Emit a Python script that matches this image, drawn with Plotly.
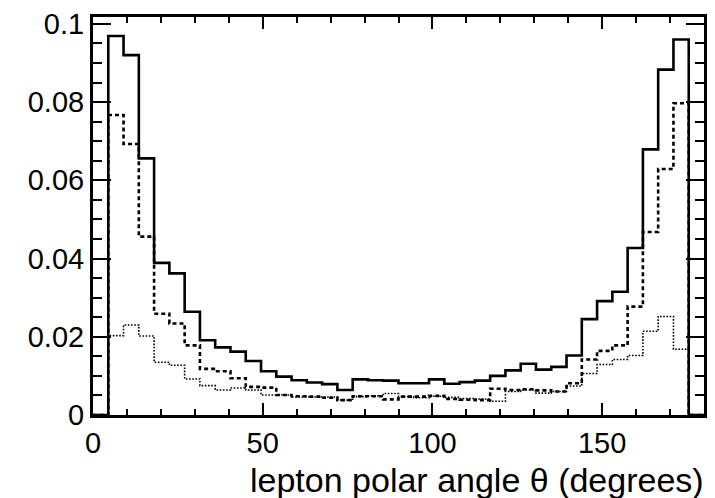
import numpy as np
import plotly.graph_objects as go

# 40 bins of 4.5 degrees from 0 to 180
bin_width = 4.5
n_bins = 40

solid = [0, 0.0969, 0.0920, 0.0656, 0.0389, 0.0362, 0.0264, 0.0191, 0.0173, 0.0162,
         0.0138, 0.0112, 0.0098, 0.0089, 0.0083, 0.0079, 0.0064, 0.0091, 0.0089, 0.0088,
         0.0081, 0.0081, 0.0091, 0.0080, 0.0084, 0.0088, 0.0100, 0.0114, 0.0131, 0.0116,
         0.0123, 0.0152, 0.0245, 0.0291, 0.0315, 0.0427, 0.0679, 0.0883, 0.0960, 0]

dashed = [0, 0.0767, 0.0693, 0.0456, 0.0259, 0.0234, 0.0178, 0.0118, 0.0112, 0.0094,
          0.0072, 0.0070, 0.0051, 0.0048, 0.0047, 0.0044, 0.0038, 0.0048, 0.0048, 0.0040,
          0.0047, 0.0047, 0.0049, 0.0041, 0.0039, 0.0038, 0.0067, 0.0064, 0.0066, 0.0063,
          0.0060, 0.0081, 0.0142, 0.0164, 0.0178, 0.0277, 0.0468, 0.0629, 0.0797, 0]

dotted = [0, 0.0203, 0.0230, 0.0202, 0.0135, 0.0127, 0.0092, 0.0075, 0.0064, 0.0069,
          0.0064, 0.0051, 0.0051, 0.0046, 0.0046, 0.0046, 0.0038, 0.0047, 0.0049, 0.0055,
          0.0047, 0.0044, 0.0048, 0.0045, 0.0042, 0.0041, 0.0035, 0.0060, 0.0064, 0.0056,
          0.0060, 0.0074, 0.0106, 0.0129, 0.0142, 0.0152, 0.0214, 0.0252, 0.0168, 0]

x_tickvals = [0, 50, 100, 150]
x_ticktext = ["0", "50", "100", "150"]
y_tickvals = [0, 0.02, 0.04, 0.06, 0.08, 0.1]
y_ticktext = ["0", "0.02", "0.04", "0.06", "0.08", "0.1"]
x_title = "lepton polar angle θ (degrees)"

edges = np.arange(n_bins + 1) * bin_width


def step_xy(vals):
    return list(edges), list(vals) + [vals[-1]]


FONT = "Liberation Sans, Arial, Helvetica, sans-serif"

fig = go.Figure()
styles = [
    (dotted, dict(color="black", width=1.6, dash="1.6px,1.6px")),
    (dashed, dict(color="black", width=2.6, dash="4px,3px")),
    (solid, dict(color="black", width=2.6)),
]
for vals, line in styles:
    xs, ys = step_xy(vals)
    fig.add_trace(go.Scatter(x=xs, y=ys, mode="lines", line_shape="hv",
                             line=line, showlegend=False, hoverinfo="skip"))

fig.update_layout(
    width=715, height=498,
    margin=dict(l=93, r=10, t=8, b=83),
    paper_bgcolor="white", plot_bgcolor="white",
    font=dict(family=FONT, color="black", size=29),
)
fig.update_xaxes(
    range=[0, 180], showgrid=False, zeroline=False,
    showline=True, linewidth=3, linecolor="black", mirror="allticks",
    ticks="inside", ticklen=12, tickwidth=2, tickcolor="black",
    tickvals=x_tickvals, ticktext=x_ticktext,
    tickfont=dict(size=29, family=FONT),
    minor=dict(dtick=10, tick0=0, ticks="inside", ticklen=6, tickwidth=2, tickcolor="black"),
)
fig.update_yaxes(
    range=[0, 0.10175], showgrid=False, zeroline=False,
    showline=True, linewidth=3, linecolor="black", mirror="allticks",
    ticks="inside", ticklen=18, tickwidth=2, tickcolor="black",
    tickvals=y_tickvals, ticktext=y_ticktext,
    tickfont=dict(size=29, family=FONT),
    minor=dict(dtick=0.005, tick0=0, ticks="inside", ticklen=9, tickwidth=2, tickcolor="black"),
)
fig.add_annotation(
    text=x_title, xref="paper", yref="paper", x=1.0, y=0,
    xanchor="right", yanchor="top", yshift=-44, xshift=2, showarrow=False,
    font=dict(size=34, family=FONT, color="black"),
)
fig.write_html("out.html")
